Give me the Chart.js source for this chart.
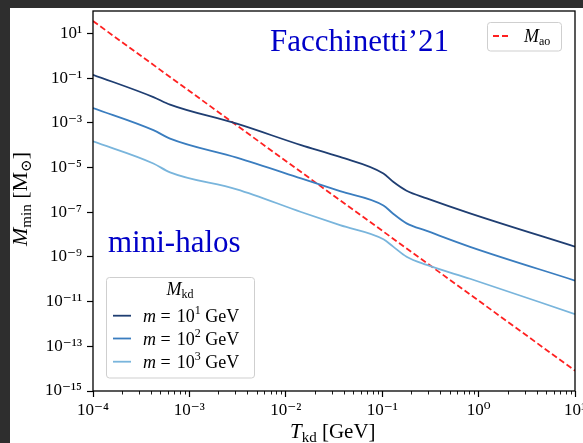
<!DOCTYPE html>
<html><head><meta charset="utf-8">
<script src="https://cdn.jsdelivr.net/npm/chart.js@4"></script>
<style>html,body{margin:0;padding:0;background:#2e2e2e;overflow:hidden}</style>
</head><body>
<canvas id="c" width="583" height="443"></canvas>
<script>
// ---- data ----
const tkd = [1e-4, 4.23e-4, 6.30e-4, 3.10e-3, 1.44e-2, 3.65e-2, 1.03e-1, 1.30e-1, 1.79e-1, 2.90e-1, 8.15e-1, 10];
const mMin10 = [1.41e-1, 1.41e-2, 6.46e-3, 9.12e-4, 1.0e-4, 2.95e-5, 5.37e-6, 2.29e-6, 9.12e-7, 4.17e-7, 8.91e-8, 2.88e-9];
const mMin100 = [4.57e-3, 4.68e-4, 1.95e-4, 2.75e-5, 3.24e-6, 8.71e-7, 2.0e-7, 8.51e-8, 3.16e-8, 1.45e-8, 2.82e-9, 8.71e-11];
const mMin1000 = [1.48e-4, 1.51e-5, 6.03e-6, 1.05e-6, 1.02e-7, 2.63e-8, 6.17e-9, 2.88e-9, 1.02e-9, 4.37e-10, 1.05e-10, 2.75e-12];
const tkdAo = [1e-4, 1e-3, 1e-2, 1e-1, 1, 10];
const mAo = [35.5, 2.63e-2, 1.95e-5, 1.48e-8, 1.10e-11, 8.13e-15];
const massExps = [1, 2, 3];
const seriesColors = ['#1f3e72', '#3a7dbf', '#79b5dc'];
const aoColor = '#ff2020';
const yTickExps = [1, -1, -3, -5, -7, -9, -11, -13, -15];
const xTickExps = [-4, -3, -2, -1, 0, 1];

const SUP = {'0':'⁰','1':'¹','2':'²','3':'³','4':'⁴','5':'⁵','6':'⁶','7':'⁷','8':'⁸','9':'⁹','-':'⁻'};
const sup = n => String(n).split('').map(c => SUP[c]).join('');
const SERIF = "'Liberation Serif', 'DejaVu Serif', serif";

const curves = [mMin10, mMin100, mMin1000];
const datasets = curves.map((arr, i) => ({
  label: 'm = 10' + sup(massExps[i]) + ' GeV',
  data: tkd.map((t, j) => ({x: t, y: arr[j]})),
  borderColor: seriesColors[i], borderWidth: 1.8, pointRadius: 0,
  cubicInterpolationMode: 'monotone', fill: false
}));
datasets.push({
  label: 'M_ao',
  data: tkdAo.map((t, j) => ({x: t, y: mAo[j]})),
  borderColor: aoColor, borderWidth: 1.8, borderDash: [6, 3], pointRadius: 0, fill: false
});

function rich(ctx, x, y, parts, align) {
  let w = 0;
  parts.forEach(p => { ctx.font = p.f; w += ctx.measureText(p.t).width; });
  let cx = align === 'center' ? x - w / 2 : x;
  parts.forEach(p => {
    ctx.font = p.f;
    ctx.fillText(p.t, cx, y + (p.dy || 0));
    cx += ctx.measureText(p.t).width;
  });
}

const bgPlugin = {
  id: 'bg',
  beforeDraw(chart) {
    const ctx = chart.ctx;
    ctx.save();
    ctx.fillStyle = '#2e2e2e';
    ctx.fillRect(0, 0, chart.width, chart.height);
    ctx.fillStyle = '#ffffff';
    ctx.fillRect(10, 8, chart.width - 10, chart.height - 8);
    ctx.restore();
  }
};

const decoPlugin = {
  id: 'deco',
  afterDraw(chart) {
    const ctx = chart.ctx, a = chart.chartArea;
    const xs = chart.scales.x;
    ctx.save();
    // frame
    ctx.strokeStyle = '#000'; ctx.lineWidth = 1.3;
    ctx.strokeRect(a.left, a.top, a.right - a.left, a.bottom - a.top);
    // minor x ticks
    ctx.lineWidth = 0.9;
    for (let d = xTickExps[0]; d < xTickExps[xTickExps.length - 1]; d++) {
      for (let k = 2; k <= 9; k++) {
        const px = Math.round(xs.getPixelForValue(k * Math.pow(10, d))) + 0.5;
        ctx.beginPath(); ctx.moveTo(px, a.bottom); ctx.lineTo(px, a.bottom + 3.5); ctx.stroke();
      }
    }
    ctx.fillStyle = '#000';
    ctx.textBaseline = 'alphabetic';
    // x title
    rich(ctx, 290, 438, [
      {t: 'T', f: 'italic 21px ' + SERIF},
      {t: 'kd', f: '15px ' + SERIF, dy: 4},
      {t: ' [GeV]', f: '21px ' + SERIF}
    ]);
    // y title
    ctx.save();
    ctx.translate(27, 199); ctx.rotate(-Math.PI / 2);
    rich(ctx, 0, 0, [
      {t: 'M', f: 'italic 22px ' + SERIF},
      {t: 'min', f: '15px ' + SERIF, dy: 4},
      {t: ' [M', f: '22px ' + SERIF},
      {t: '⊙', f: '15px ' + SERIF, dy: 4},
      {t: ']', f: '22px ' + SERIF}
    ], 'center');
    ctx.restore();
    // annotations
    ctx.fillStyle = '#0000c8';
    ctx.font = '31px ' + SERIF;
    ctx.fillText('Facchinetti’21', 270, 51);
    ctx.fillText('mini-halos', 108, 252);
    // legend boxes
    const box = (x, y, w, h) => {
      ctx.beginPath(); ctx.roundRect(x, y, w, h, 3);
      ctx.fillStyle = 'rgba(255,255,255,0.85)'; ctx.fill();
      ctx.strokeStyle = '#cfcfcf'; ctx.lineWidth = 1; ctx.stroke();
    };
    // legend 1
    box(487.5, 22.5, 74, 28.5);
    const ao = chart.data.datasets[3];
    ctx.strokeStyle = ao.borderColor; ctx.lineWidth = 1.8; ctx.setLineDash([6, 3]);
    ctx.beginPath(); ctx.moveTo(493, 36); ctx.lineTo(511, 36); ctx.stroke();
    ctx.setLineDash([]);
    ctx.fillStyle = '#000';
    rich(ctx, 524, 42, [
      {t: 'M', f: 'italic 18px ' + SERIF},
      {t: 'ao', f: '12px ' + SERIF, dy: 3}
    ]);
    // legend 2
    box(106.5, 277.5, 148, 100.5);
    ctx.fillStyle = '#000';
    rich(ctx, 180, 295, [
      {t: 'M', f: 'italic 18px ' + SERIF},
      {t: 'kd', f: '12px ' + SERIF, dy: 3}
    ], 'center');
    const ys = [315.7, 338.5, 361.7];
    for (let i = 0; i < 3; i++) {
      const ds = chart.data.datasets[i];
      ctx.strokeStyle = ds.borderColor; ctx.lineWidth = 1.8;
      ctx.beginPath(); ctx.moveTo(113, ys[i]); ctx.lineTo(131, ys[i]); ctx.stroke();
      ctx.fillStyle = '#000';
      rich(ctx, 143, ys[i] + 6, [
        {t: 'm', f: 'italic 18px ' + SERIF},
        {t: ' = ', f: '18px ' + SERIF},
        {t: '\u200A10', f: '18px ' + SERIF},
        {t: String(massExps[i]), f: '12px ' + SERIF, dy: -8},
        {t: ' GeV', f: '18px ' + SERIF}
      ]);
    }
    ctx.restore();
  }
};

new Chart(document.getElementById('c'), {
  type: 'line',
  data: {datasets},
  plugins: [bgPlugin, decoPlugin],
  options: {
    responsive: false, animation: false, devicePixelRatio: 1,
    layout: {padding: {left: 0, top: 11, right: 8, bottom: 0}},
    plugins: {legend: {display: false}, tooltip: {enabled: false}},
    scales: {
      x: {
        type: 'logarithmic', min: 1e-4, max: 10,
        afterBuildTicks: s => { s.ticks = xTickExps.map(e => ({value: Math.pow(10, e), major: true})); },
        afterFit: s => { s.height = 52; s.paddingLeft = 0; s.paddingRight = 0; },
        ticks: {
          autoSkip: false, maxRotation: 0, padding: 3, color: '#000',
          font: {family: SERIF, size: 17},
          callback: v => '10' + sup(Math.round(Math.log10(v)))
        },
        grid: {drawOnChartArea: false, drawTicks: true, tickLength: 6, tickColor: '#000', tickWidth: 1.2},
        border: {display: false}
      },
      y: {
        type: 'logarithmic', min: 1e-15, max: 1e2,
        afterBuildTicks: s => { s.ticks = yTickExps.map(e => ({value: Math.pow(10, e), major: true})); },
        afterFit: s => { s.width = 93; s.paddingTop = 0; s.paddingBottom = 0; },
        ticks: {
          autoSkip: false, padding: 5, color: '#000',
          font: {family: SERIF, size: 17},
          callback: v => '10' + sup(Math.round(Math.log10(v)))
        },
        grid: {drawOnChartArea: false, drawTicks: true, tickLength: 6, tickColor: '#000', tickWidth: 1.2},
        border: {display: false}
      }
    }
  }
});
</script>
</body></html>
